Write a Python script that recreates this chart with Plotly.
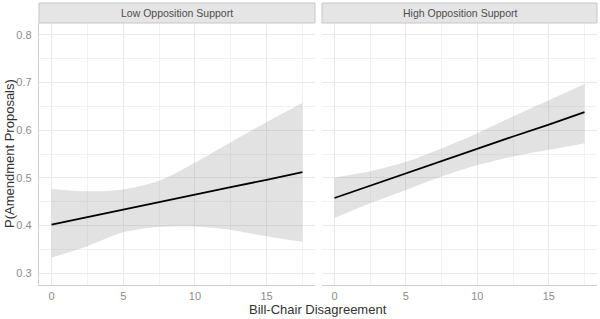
import plotly.graph_objects as go

# ---- data ----
x_vals = [0, 2.5, 5, 7.5, 10, 12.5, 15, 17.5]

low_fit = [0.402, 0.418, 0.433, 0.449, 0.465, 0.481, 0.496, 0.512]
low_upper = [0.477, 0.472, 0.476, 0.494, 0.532, 0.575, 0.617, 0.657]
low_lower = [0.333, 0.357, 0.386, 0.397, 0.398, 0.391, 0.378, 0.366]

high_fit = [0.458, 0.484, 0.509, 0.535, 0.561, 0.587, 0.612, 0.638]
high_upper = [0.501, 0.514, 0.534, 0.562, 0.594, 0.629, 0.663, 0.697]
high_lower = [0.416, 0.447, 0.475, 0.503, 0.527, 0.545, 0.559, 0.573]

panel_titles = ["Low Opposition Support", "High Opposition Support"]
x_ticks = [0, 5, 10, 15]
y_ticks = [0.3, 0.4, 0.5, 0.6, 0.7, 0.8]
x_title = "Bill-Chair Disagreement"
y_title = "P(Amendment Proposals)"

W, H = 600, 319
FONT = "Liberation Sans, Arial, sans-serif"
RIBBON = "rgba(150,150,150,0.28)"

fig = go.Figure()

panels = [
    (low_lower, low_upper, low_fit, "x", "y"),
    (high_lower, high_upper, high_fit, "x2", "y2"),
]
for lower, upper, fit, xa, ya in panels:
    fig.add_trace(go.Scatter(x=x_vals, y=lower, mode="lines",
                             line=dict(width=0, shape="spline", smoothing=0.8),
                             xaxis=xa, yaxis=ya, showlegend=False, hoverinfo="skip"))
    fig.add_trace(go.Scatter(x=x_vals, y=upper, mode="lines", fill="tonexty",
                             fillcolor=RIBBON,
                             line=dict(width=0, shape="spline", smoothing=0.8),
                             xaxis=xa, yaxis=ya, showlegend=False, hoverinfo="skip"))
    fig.add_trace(go.Scatter(x=x_vals, y=fit, mode="lines",
                             line=dict(color="black", width=1.8),
                             xaxis=xa, yaxis=ya, showlegend=False))

x_range = [-0.875, 18.375]
y_range = [0.2755, 0.825]

ybot = 1 - 285 / H
ytop = 1 - 23 / H
dom1 = [39 / W, 315 / W]
dom2 = [322 / W, 597 / W]

grid_major = "#e9e9e9"
grid_minor = "#f1f1f1"
tickfont = dict(family=FONT, size=11, color="#8c8c8c")

common_x = dict(range=x_range, tickvals=x_ticks, showgrid=True, gridcolor=grid_major,
                gridwidth=1.1, zeroline=False, showline=True, linecolor="#cfcfcf",
                linewidth=1.3, ticks="outside", ticklen=1, tickcolor="rgba(0,0,0,0)",
                tickfont=tickfont,
                minor=dict(tickvals=[2.5, 7.5, 12.5, 17.5], showgrid=True,
                           gridcolor=grid_minor, gridwidth=0.7, ticks=""))
common_y = dict(range=y_range, tickvals=y_ticks, showgrid=True, gridcolor=grid_major,
                gridwidth=1.1, zeroline=False, ticks="outside", ticklen=4,
                tickcolor="rgba(0,0,0,0)", tickfont=tickfont,
                minor=dict(tickvals=[0.35, 0.45, 0.55, 0.65, 0.75], showgrid=True,
                           gridcolor=grid_minor, gridwidth=0.7, ticks=""))

fig.update_layout(
    width=W, height=H,
    margin=dict(l=0, r=0, t=0, b=0),
    paper_bgcolor="white", plot_bgcolor="white",
    font=dict(family=FONT),
    xaxis=dict(domain=dom1, anchor="y", **common_x),
    xaxis2=dict(domain=dom2, anchor="y2", **common_x),
    yaxis=dict(domain=[ybot, ytop], anchor="x", showline=True, linecolor="#cfcfcf",
               linewidth=1.3, **common_y),
    yaxis2=dict(domain=[ybot, ytop], anchor="x2", showline=False, showticklabels=False,
                **common_y),
)

strip_y0 = 1 - 23 / H
strip_y1 = 1 - 3 / H
shapes = []
annotations = []
for dom, title in zip([dom1, dom2], panel_titles):
    shapes.append(dict(type="rect", xref="paper", yref="paper", x0=dom[0], x1=dom[1],
                       y0=strip_y0, y1=strip_y1, fillcolor="#e5e5e5",
                       line=dict(color="#c6c6c6", width=1), layer="above"))
    annotations.append(dict(text=title, xref="paper", yref="paper",
                            x=(dom[0] + dom[1]) / 2, y=(strip_y0 + strip_y1) / 2,
                            showarrow=False, xanchor="center", yanchor="middle",
                            font=dict(family=FONT, size=10.5, color="#4d4d4d")))

annotations.append(dict(text=x_title, xref="paper", yref="paper",
                        x=(dom1[0] + dom2[1]) / 2, y=1 - 309 / H,
                        showarrow=False, xanchor="center", yanchor="middle",
                        font=dict(family=FONT, size=13, color="#333333")))
annotations.append(dict(text=y_title, xref="paper", yref="paper",
                        x=9 / W, y=1 - 154 / H, textangle=-90,
                        showarrow=False, xanchor="center", yanchor="middle",
                        font=dict(family=FONT, size=13, color="#333333")))

fig.update_layout(shapes=shapes, annotations=annotations)

fig.write_html("out.html",
               config={"displayModeBar": False},
               post_script="document.body.style.margin='0';document.body.style.padding='0';document.body.style.overflow='hidden';")
